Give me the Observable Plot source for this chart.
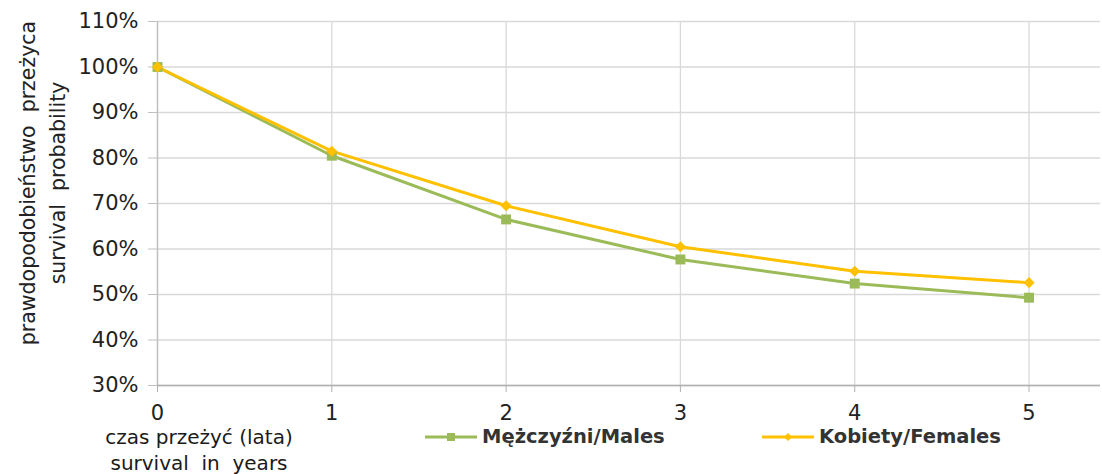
<!DOCTYPE html>
<html>
<head>
<meta charset="utf-8">
<script src="https://cdn.jsdelivr.net/npm/d3@7"></script>
<script src="https://cdn.jsdelivr.net/npm/@observablehq/plot@0.6"></script>
<style>
  html, body { margin: 0; padding: 0; background: #fff; }
  #wrap { position: relative; width: 1102px; height: 474px; font-family: "DejaVu Sans", sans-serif; color: #222; }
  .lbl { position: absolute; font-size: 20px; white-space: nowrap; }
  #ylab { position: absolute; left: 43px; top: 183px; transform: translate(-50%, -50%) rotate(-90deg); text-align: center; font-family: "DejaVu Sans", sans-serif; font-size: 20.5px; line-height: 30px; white-space: pre; color: #222; }
  #xlab { left: 199px; top: 424px; transform: translateX(-50%); text-align: center; line-height: 26px; white-space: pre; color: #1a1a1a; }
  .leg { position: absolute; top: 425px; display: flex; align-items: center; font-size: 19.5px; font-weight: bold; white-space: nowrap; color: #333; }
  .leg svg { margin-right: 5px; }
</style>
</head>
<body>
<div id="wrap">
  <div id="chart"></div>
  <div id="ylab">prawdopodobieństwo  przeżyca
survival  probability</div>
  <div id="xlab" class="lbl">czas przeżyć (lata)
survival  in  years</div>
  <div id="legend"></div>
</div>
<script>
const years = [0, 1, 2, 3, 4, 5];
const males = [1.00, 0.805, 0.665, 0.577, 0.524, 0.493];
const females = [1.00, 0.815, 0.695, 0.605, 0.551, 0.526];
const yTicks = [0.3, 0.4, 0.5, 0.6, 0.7, 0.8, 0.9, 1.0, 1.1];
const seriesNames = ["Mężczyźni/Males", "Kobiety/Females"];
const colors = ["#9bbb59", "#ffc000"];

const maleData = years.map((t, i) => ({t, v: males[i]}));
const femaleData = years.map((t, i) => ({t, v: females[i]}));

const plot = Plot.plot({
  width: 1102,
  height: 474,
  marginLeft: 157,
  marginRight: 2,
  marginTop: 21,
  marginBottom: 89,
  style: {fontFamily: "'DejaVu Sans', sans-serif", fontSize: "21px", color: "#222", background: "#fff"},
  x: {domain: [0, 5.41], ticks: years, label: null},
  y: {domain: [0.3, 1.1], ticks: yTicks, label: null},
  marks: [
    Plot.gridY(yTicks, {stroke: "#d9d9d9", strokeOpacity: 1, strokeWidth: 1.3}),
    Plot.gridX(years.slice(1), {stroke: "#d9d9d9", strokeOpacity: 1, strokeWidth: 1.3}),
    Plot.ruleX([0], {stroke: "#bfbfbf", strokeWidth: 1.5}),
    Plot.ruleY([0.3], {stroke: "#b0b0b0", strokeWidth: 1.5}),
    Plot.axisY(yTicks, {tickSize: 9, tickPadding: 10, stroke: "#bfbfbf", tickFormat: d => Math.round(d * 100) + "%", fill: "#222", label: null, fontSize: 21}),
    Plot.axisX(years, {tickSize: 7, tickPadding: 13, stroke: "#b0b0b0", tickFormat: d => String(d), fill: "#222", label: null, fontSize: 21}),
    Plot.line(maleData, {x: "t", y: "v", stroke: colors[0], strokeWidth: 3}),
    Plot.line(femaleData, {x: "t", y: "v", stroke: colors[1], strokeWidth: 3}),
    Plot.dot(maleData, {x: "t", y: "v", symbol: "square", r: 5.6, fill: colors[0], stroke: "none"}),
    Plot.dot(femaleData, {x: "t", y: "v", symbol: "diamond2", r: 5, fill: colors[1], stroke: "none"})
  ]
});
document.getElementById("chart").appendChild(plot);

const legend = document.getElementById("legend");
const legPos = [425, 762];
const markers = [
  '<rect x="22" y="6" width="8" height="8" fill="COL"/>',
  '<path d="M26 6 L30 10 L26 14 L22 10 Z" fill="COL"/>'
];
seriesNames.forEach((name, i) => {
  const d = document.createElement("div");
  d.className = "leg";
  d.style.left = legPos[i] + "px";
  d.innerHTML = `<svg width="52" height="20"><line x1="0" x2="52" y1="10" y2="10" stroke="${colors[i]}" stroke-width="3"/>${markers[i].replace("COL", colors[i])}</svg><span>${name}</span>`;
  legend.appendChild(d);
});
</script>
</body>
</html>
